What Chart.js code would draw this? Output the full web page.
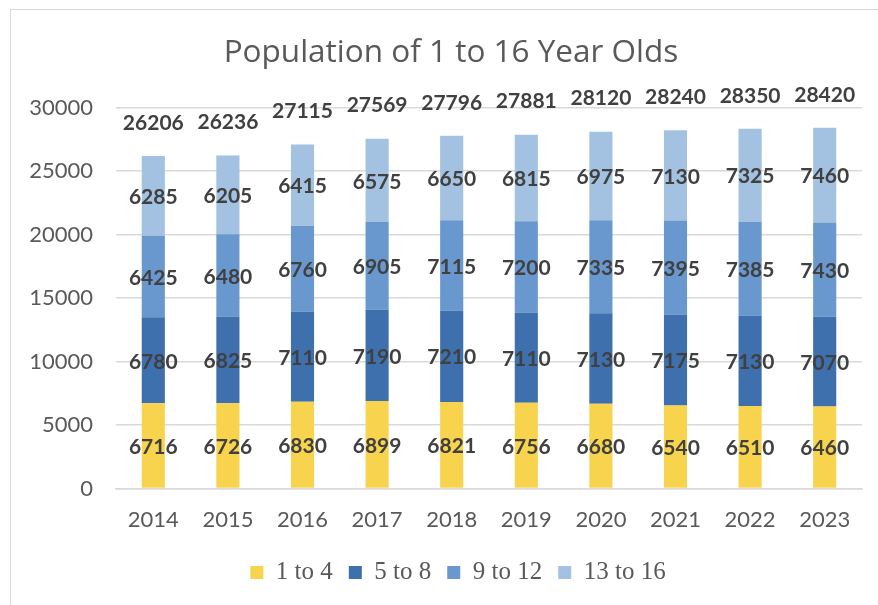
<!DOCTYPE html>
<html><head><meta charset="utf-8">
<script src="https://cdn.jsdelivr.net/npm/chart.js@4.4.1/dist/chart.umd.min.js"></script>
<style>
html,body{margin:0;padding:0;background:#fff;overflow:hidden;width:878px;height:605px}
#frame{position:absolute;left:10px;top:9px;width:900px;height:700px;border:1px solid #d9d9d9;box-sizing:border-box}
#wrap{position:absolute;left:0;top:0;width:878px;height:605px}
</style></head>
<body>
<div id="frame"></div>
<div id="wrap"><canvas id="c" width="878" height="605"></canvas></div>
<script>
const years = ['2014','2015','2016','2017','2018','2019','2020','2021','2022','2023'];
const age1to4   = [6716,6726,6830,6899,6821,6756,6680,6540,6510,6460];
const age5to8   = [6780,6825,7110,7190,7210,7110,7130,7175,7130,7070];
const age9to12  = [6425,6480,6760,6905,7115,7200,7335,7395,7385,7430];
const age13to16 = [6285,6205,6415,6575,6650,6815,6975,7130,7325,7460];
const seriesNames = ['1 to 4','5 to 8','9 to 12','13 to 16'];
const seriesColors = ['#F8D44E','#3D70AD','#6898CD','#A3C1E1'];

const labelPlugin = {
  id: 'valueLabels',
  afterLayout(chart) {
    // shift legend and title so they are centred like the reference
    chart.legend.left += 54;
    chart.titleBlock.left += 40;
  },
  afterDatasetsDraw(chart) {
    const ctx = chart.ctx;
    ctx.save();
    ctx.font = 'bold 21px Lato';
    ctx.fillStyle = '#404040';
    ctx.textAlign = 'center';
    ctx.textBaseline = 'middle';
    const n = chart.data.datasets.length;
    chart.data.datasets.forEach((ds, i) => {
      const meta = chart.getDatasetMeta(i);
      meta.data.forEach((el, j) => {
        ctx.fillText(String(ds.data[j]), el.x, (el.y + el.base) / 2 + 1.5);
      });
    });
    const top = chart.getDatasetMeta(n - 1);
    top.data.forEach((el, j) => {
      let tot = 0;
      chart.data.datasets.forEach(ds => { tot += ds.data[j]; });
      ctx.fillText(String(tot), el.x, el.y - 33);
    });
    ctx.restore();
  }
};

const dataArrays = [age1to4, age5to8, age9to12, age13to16];
new Chart(document.getElementById('c'), {
  type: 'bar',
  data: {
    labels: years,
    datasets: dataArrays.map((d, i) => ({
      label: seriesNames[i],
      data: d,
      backgroundColor: seriesColors[i],
      borderWidth: 0,
      barPercentage: 0.31,
      categoryPercentage: 1
    }))
  },
  options: {
    responsive: false,
    animation: false,
    layout: { padding: { left: 0, right: 16, top: 0, bottom: 10 } },
    plugins: {
      title: {
        display: true,
        text: 'Population of 1 to 16 Year Olds',
        color: '#595959',
        font: { family: 'Open Sans', size: 31.5, weight: 'normal' },
        padding: { top: 34, bottom: 36 }
      },
      legend: {
        position: 'bottom',
        labels: {
          color: '#595959',
          font: { family: 'Liberation Serif', size: 25 },
          boxWidth: 13,
          boxHeight: 13,
          padding: 16
        }
      },
      tooltip: { enabled: false }
    },
    scales: {
      x: {
        stacked: true,
        grid: { display: false, drawTicks: false },
        border: { display: true, color: '#d9d9d9', width: 1.5 },
        ticks: { color: '#595959', font: { family: 'Lato', size: 22 }, padding: 18 },
        afterFit(s) { s.height = 55.5; }
      },
      y: {
        stacked: true,
        min: 0, max: 30000,
        grid: { color: '#d9d9d9', lineWidth: 1.5, drawTicks: false },
        border: { display: false },
        ticks: { stepSize: 5000, color: '#595959', font: { family: 'Lato', size: 22 }, padding: 23,
                 callback: v => String(v) },
        afterFit(s) { s.width = 116; }
      }
    }
  },
  plugins: [labelPlugin]
});
</script>
</body></html>
